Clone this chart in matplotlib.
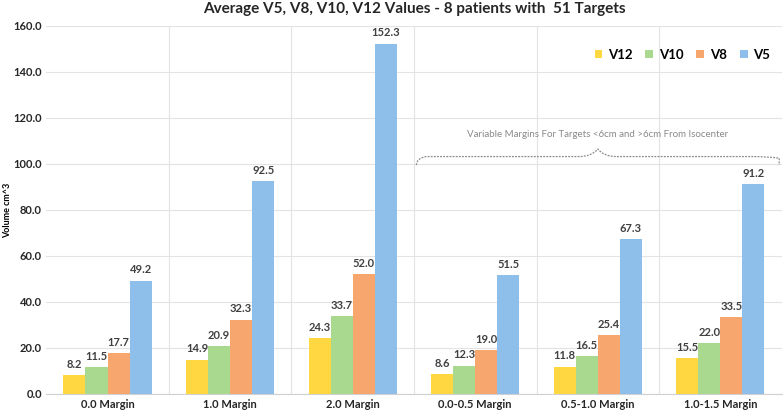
import matplotlib.pyplot as plt
import numpy as np
from matplotlib.path import Path
from matplotlib.patches import PathPatch

plt.rcParams['font.family'] = ['Lato', 'DejaVu Sans']

categories = ['0.0 Margin', '1.0 Margin', '2.0 Margin',
              '0.0-0.5 Margin', '0.5-1.0 Margin', '1.0-1.5 Margin']
series = ['V12', 'V10', 'V8', 'V5']
v12 = [8.2, 14.9, 24.3, 8.6, 11.8, 15.5]
v10 = [11.5, 20.9, 33.7, 12.3, 16.5, 22.0]
v8 = [17.7, 32.3, 52.0, 19.0, 25.4, 33.5]
v5 = [49.2, 92.5, 152.3, 51.5, 67.3, 91.2]
colors = ['#FFD740', '#A9D98E', '#F7A66E', '#8EBFEA']

fig = plt.figure(figsize=(7.84, 4.12), dpi=100)
ax = fig.add_axes([0.059, 0.044, 0.938, 0.893])

x = np.arange(len(categories))
w = 0.18
for i, (name, vals) in enumerate(zip(series, [v12, v10, v8, v5])):
    pos = x + (i - 1.5) * w
    ax.bar(pos, vals, w, color=colors[i], label=name, zorder=3)
    for px, v in zip(pos, vals):
        ax.text(px, v + 2.3, f'{v:.1f}', ha='center', va='bottom',
                fontsize=8, fontweight='bold', color='#404040')

ax.set_xlim(-0.5, 5.5)
ax.set_ylim(0, 160)
ax.set_yticks(np.arange(0, 161, 20))
ax.set_yticklabels([f'{t:.1f}' for t in range(0, 161, 20)])
ax.set_xticks(x)
ax.set_xticklabels(categories)
ax.tick_params(length=0, labelsize=8)
ax.tick_params(axis='y', pad=3)
for lab in ax.get_xticklabels() + ax.get_yticklabels():
    lab.set_fontweight('bold')
    lab.set_color('#262626')
ax.yaxis.grid(True, color='#E3E3E3', lw=0.8, zorder=0)
for b in np.arange(0.5, 5.5, 1):
    ax.axvline(b, color='#E3E3E3', lw=0.8, zorder=0)
for s in ['top', 'right', 'left']:
    ax.spines[s].set_visible(False)
ax.spines['bottom'].set_color('#D0D0D0')
ax.set_ylabel('Volume cm^3', fontsize=6.5, fontweight='bold')
ax.yaxis.set_label_coords(-0.046, 0.5)

ax.set_title('Average V5, V8, V10, V12 Values - 8 patients with  51 Targets',
             fontsize=11, fontweight='bold', color='#262626', pad=9)

leg = ax.legend(loc='upper right', ncol=4, frameon=False, fontsize=9.5,
                handlelength=0.6, handleheight=0.6, handletextpad=0.4,
                columnspacing=1.0, bbox_to_anchor=(1.0, 0.97))
for t in leg.get_texts():
    t.set_fontweight('bold')

# brace over variable-margin groups
verts = [(2.52, 99.5), (2.52, 102.5), (2.6, 103.2), (2.75, 103.2),
         (3.85, 103.2), (3.95, 103.2), (4.0, 106.5),
         (4.05, 103.2), (4.15, 103.2),
         (5.25, 103.2), (5.4, 103.2), (5.48, 102.5), (5.48, 99.5)]
codes = [Path.MOVETO, Path.CURVE3, Path.CURVE3, Path.LINETO,
         Path.LINETO, Path.CURVE3, Path.CURVE3,
         Path.CURVE3, Path.CURVE3,
         Path.LINETO, Path.CURVE3, Path.CURVE3, Path.LINETO]
ax.add_patch(PathPatch(Path(verts, codes), fill=False, ls=(0, (1.5, 1)),
                       lw=0.9, color='#8A8A8A', zorder=4))
ax.text(4.0, 111, 'Variable Margins For Targets <6cm and >6cm From Isocenter',
        ha='center', va='bottom', fontsize=7, color='#8A8A8A')

fig.savefig('out.png', dpi=100)
